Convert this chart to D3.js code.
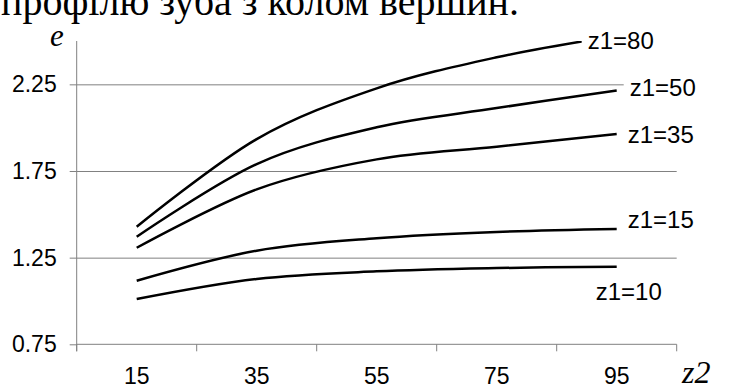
<!DOCTYPE html>
<html>
<head>
<meta charset="utf-8">
<script src="https://cdn.jsdelivr.net/npm/d3@7"></script>
<style>
  body { margin: 0; background: #fff; }
  svg { display: block; }
</style>
</head>
<body>
<svg id="chart"></svg>
<script>
// z2 categories and e values for each z1 series
z2_values = [15, 35, 55, 75, 95];
z1_names = ["z1=80", "z1=50", "z1=35", "z1=15", "z1=10"];
e_z1_80 = [1.428, 1.934, 2.227, 2.406, 2.53];
e_z1_50 = [1.371, 1.790, 2.002, 2.113, 2.215];
e_z1_35 = [1.307, 1.644, 1.817, 1.890, 1.963];
e_z1_15 = [1.117, 1.290, 1.362, 1.398, 1.415];
e_z1_10 = [1.011, 1.127, 1.171, 1.190, 1.198];
y_ticks = [0.75, 1.25, 1.75, 2.25];

WIDTH = 736
HEIGHT = 388
plotLeft = 76.7
plotRight = 676.7
plotTop = 41
plotBottom = 344.3
AXIS = "#808080"

// label offsets: dx from last point, baseline y
label_pos = [[-29, 49], [13, 96], [11, 143], [11, 228], [-21, 300]];

var series = [e_z1_80, e_z1_50, e_z1_35, e_z1_15, e_z1_10];

var svg = d3.select("#chart").attr("width", WIDTH).attr("height", HEIGHT);

var x = d3.scaleBand().domain(z2_values).range([plotLeft, plotRight]).padding(0);
var y = d3.scaleLinear().domain([0.75, 2.5]).range([plotBottom, plotTop]);

// caption from the page above, cut at the top
svg.append("text")
    .attr("x", 1)
    .attr("y", 15)
    .style("font-family", "'Liberation Serif', 'Times New Roman', serif")
    .style("font-size", "40px")
    .text("профілю зуба з колом вершин.");

// gridlines
svg.append("g")
    .attr("transform", "translate(" + plotLeft + ",0)")
    .call(d3.axisLeft(y).tickValues(y_ticks.slice(1)).tickSize(-(plotRight - plotLeft)).tickFormat(""))
    .call(g => g.select(".domain").remove())
    .call(g => g.selectAll("line").attr("stroke", AXIS));

// y axis with labels
svg.append("g")
    .attr("transform", "translate(" + plotLeft + ",0)")
    .call(d3.axisLeft(y).tickValues(y_ticks).tickSize(7).tickSizeOuter(0).tickPadding(13).tickFormat(d3.format(".2f")))
    .call(g => g.select(".domain").remove())
    .call(g => g.selectAll("line").attr("stroke", AXIS))
    .call(g => g.selectAll("text")
        .style("font-family", "'Liberation Sans', Arial, sans-serif")
        .style("font-size", "23px")
        .attr("fill", "#000"));

svg.append("line")
    .attr("x1", plotLeft).attr("x2", plotLeft)
    .attr("y1", plotTop).attr("y2", plotBottom + 7)
    .attr("stroke", AXIS);

// x axis: labels in band centres, ticks between categories
svg.append("line")
    .attr("x1", plotLeft).attr("x2", plotRight)
    .attr("y1", plotBottom).attr("y2", plotBottom)
    .attr("stroke", AXIS);

var boundaries = z2_values.map(d => x(d)).concat([x.range()[1]]);
svg.append("g").selectAll("line")
    .data(boundaries)
    .enter().append("line")
    .attr("x1", d => d).attr("x2", d => d)
    .attr("y1", plotBottom).attr("y2", plotBottom + 7)
    .attr("stroke", AXIS);

svg.append("g").selectAll("text")
    .data(z2_values)
    .enter().append("text")
    .attr("x", d => x(d) + x.bandwidth() / 2)
    .attr("y", 384)
    .attr("text-anchor", "middle")
    .style("font-family", "'Liberation Sans', Arial, sans-serif")
    .style("font-size", "23px")
    .text(d => d);

// clip lines to the plot area
svg.append("clipPath").attr("id", "plotclip")
    .append("rect")
    .attr("x", plotLeft).attr("y", plotTop)
    .attr("width", plotRight - plotLeft).attr("height", plotBottom - plotTop);

var line = d3.line()
    .x((d, i) => x(z2_values[i]) + x.bandwidth() / 2)
    .y(d => y(d))
    .curve(d3.curveCardinal.tension(0));

svg.append("g")
    .attr("clip-path", "url(#plotclip)")
    .selectAll("path")
    .data(series)
    .enter().append("path")
    .attr("d", line)
    .attr("fill", "none")
    .attr("stroke", "#000")
    .attr("stroke-width", 2.5);

// series labels with white boxes (they hide the gridline under z1=50)
var lastX = x(z2_values[z2_values.length - 1]) + x.bandwidth() / 2;
var labels = svg.append("g").selectAll("g")
    .data(z1_names)
    .enter().append("g");

labels.append("text")
    .attr("x", (d, i) => lastX + label_pos[i][0])
    .attr("y", (d, i) => label_pos[i][1])
    .style("font-family", "'Liberation Sans', Arial, sans-serif")
    .style("font-size", "24px")
    .text(d => d);

labels.each(function () {
    var t = d3.select(this).select("text");
    var b = t.node().getBBox();
    d3.select(this).insert("rect", "text")
        .attr("x", b.x - 6).attr("y", b.y)
        .attr("width", b.width + 8).attr("height", b.height)
        .attr("fill", "#fff");
});

// axis titles
svg.append("text")
    .attr("x", 50)
    .attr("y", 46)
    .style("font-family", "'Liberation Serif', 'Times New Roman', serif")
    .style("font-style", "italic")
    .style("font-size", "31px")
    .text("e");

svg.append("text")
    .attr("x", 682)
    .attr("y", 383)
    .style("font-family", "'Liberation Serif', 'Times New Roman', serif")
    .style("font-style", "italic")
    .style("font-size", "32px")
    .text("z2");
</script>
</body>
</html>
